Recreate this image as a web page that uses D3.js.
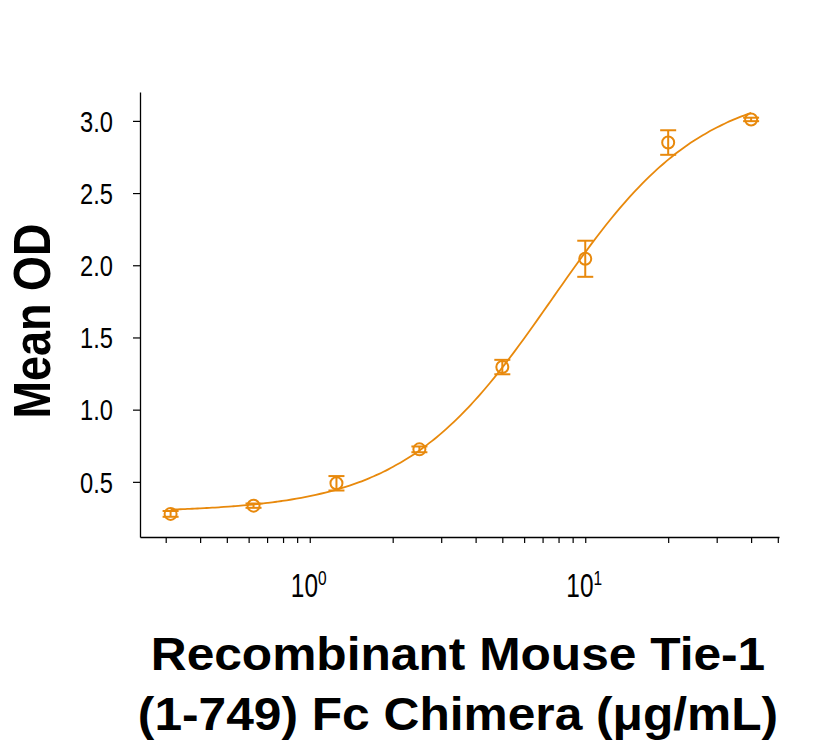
<!DOCTYPE html>
<html>
<head>
<meta charset="utf-8">
<script src="https://cdn.jsdelivr.net/npm/d3@7"></script>
<style>
  body { margin: 0; background: #fff; }
  svg text { fill: #000; }
</style>
</head>
<body>
<svg id="chart" width="816" height="747"></svg>
<script>
// concentrations (µg/mL) and measured OD
const concentrations = [0.3125, 0.625, 1.25, 2.5, 5, 10, 20, 40];
const meanOD = [0.278, 0.335, 0.49, 0.725, 1.295, 2.045, 2.85, 3.01];
const errorOD = [0.02, 0.015, 0.05, 0.02, 0.05, 0.125, 0.085, 0.012];

// four-parameter logistic fit drawn through the data
const fitBottom = 0.29;
const fitTop = 3.25;
const fitEC50 = 7.6;
const fitHill = 1.6;

const yTicks = [0.5, 1.0, 1.5, 2.0, 2.5, 3.0];
const xMajorTicks = [1, 10];

const color = "#E8890C";
const svg = d3.select("#chart");
const margin = { top: 92, right: 37, bottom: 210, left: 140 };
const width = +svg.attr("width");
const height = +svg.attr("height");

const x = d3.scaleLog()
  .domain([0.242, 50.5])
  .range([margin.left, width - margin.right]);

const y = d3.scaleLinear()
  .domain([0.118, 3.2])
  .range([height - margin.bottom, margin.top]);

const tickFont = "'Liberation Sans', Arial, sans-serif";
const boldFont = "'Liberation Sans', Arial, sans-serif";

// y axis
const yAxis = svg.append("g")
  .attr("transform", `translate(${margin.left},0)`)
  .call(d3.axisLeft(y).tickValues(yTicks).tickFormat("").tickSize(7).tickSizeOuter(0));
yAxis.select(".domain").attr("stroke", "#000").attr("stroke-width", 1.3);
yAxis.selectAll(".tick line").attr("stroke", "#000").attr("stroke-width", 1.2);

// condensed tick labels
svg.append("g")
  .selectAll("text")
  .data(yTicks)
  .join("text")
  .attr("transform", d => `translate(113,${y(d)}) scale(0.79,1)`)
  .attr("dy", "0.36em")
  .attr("text-anchor", "end")
  .style("font-family", tickFont)
  .style("font-size", "30px")
  .text(d3.format(".1f"));

// x axis with minor log ticks
const minorTicks = x.ticks().filter(v => v >= 0.3 && v <= 50);
const xAxis = svg.append("g")
  .attr("transform", `translate(0,${height - margin.bottom})`)
  .call(d3.axisBottom(x).tickValues(minorTicks).tickFormat("").tickSize(6).tickSizeOuter(0));
xAxis.select(".domain").attr("stroke", "#000").attr("stroke-width", 1.3);
xAxis.selectAll(".tick line").attr("stroke", "#000").attr("stroke-width", 1.2);

const xLabels = svg.append("g");
xMajorTicks.forEach(v => {
  const t = xLabels.append("text")
    .attr("transform", `translate(${x(v) - 1},597) scale(0.74,1)`)
    .attr("text-anchor", "middle")
    .style("font-family", tickFont)
    .style("font-size", "33px");
  t.append("tspan").text("10");
  t.append("tspan")
    .attr("dy", -12)
    .style("font-size", "21px")
    .text(Math.round(Math.log10(v)));
});

// fitted curve
const fit = c => fitBottom + (fitTop - fitBottom) / (1 + Math.pow(fitEC50 / c, fitHill));
const curveX = d3.range(0, 121).map(i => 0.3125 * Math.pow(40 / 0.3125, i / 120));
svg.append("path")
  .datum(curveX)
  .attr("fill", "none")
  .attr("stroke", color)
  .attr("stroke-width", 1.8)
  .attr("d", d3.line().x(d => x(d)).y(d => y(fit(d))).curve(d3.curveMonotoneX));

// points with error bars
const pts = concentrations.map((c, i) => ({ c, v: meanOD[i], e: errorOD[i] }));
const pg = svg.append("g")
  .selectAll("g")
  .data(pts)
  .join("g")
  .attr("stroke", color)
  .attr("stroke-width", 2)
  .attr("fill", "none");

pg.append("line")
  .attr("x1", d => x(d.c)).attr("x2", d => x(d.c))
  .attr("y1", d => y(d.v - d.e)).attr("y2", d => y(d.v + d.e));
pg.append("line")
  .attr("x1", d => x(d.c) - 8).attr("x2", d => x(d.c) + 8)
  .attr("y1", d => y(d.v - d.e)).attr("y2", d => y(d.v - d.e));
pg.append("line")
  .attr("x1", d => x(d.c) - 8).attr("x2", d => x(d.c) + 8)
  .attr("y1", d => y(d.v + d.e)).attr("y2", d => y(d.v + d.e));
pg.append("circle")
  .attr("cx", d => x(d.c))
  .attr("cy", d => y(d.v))
  .attr("r", 6);

// axis titles
svg.append("text")
  .attr("transform", "translate(50,321) rotate(-90) scale(1,1.17)")
  .attr("text-anchor", "middle")
  .style("font-family", boldFont)
  .style("font-weight", "bold")
  .style("font-size", "45px")
  .text("Mean OD");

svg.append("text")
  .attr("transform", "translate(458,670) scale(1.08,1)")
  .attr("text-anchor", "middle")
  .style("font-family", boldFont)
  .style("font-weight", "bold")
  .style("font-size", "46px")
  .text("Recombinant Mouse Tie-1");
svg.append("text")
  .attr("transform", "translate(458,730) scale(1.08,1)")
  .attr("text-anchor", "middle")
  .style("font-family", boldFont)
  .style("font-weight", "bold")
  .style("font-size", "46px")
  .text("(1-749) Fc Chimera (μg/mL)");
</script>
</body>
</html>
